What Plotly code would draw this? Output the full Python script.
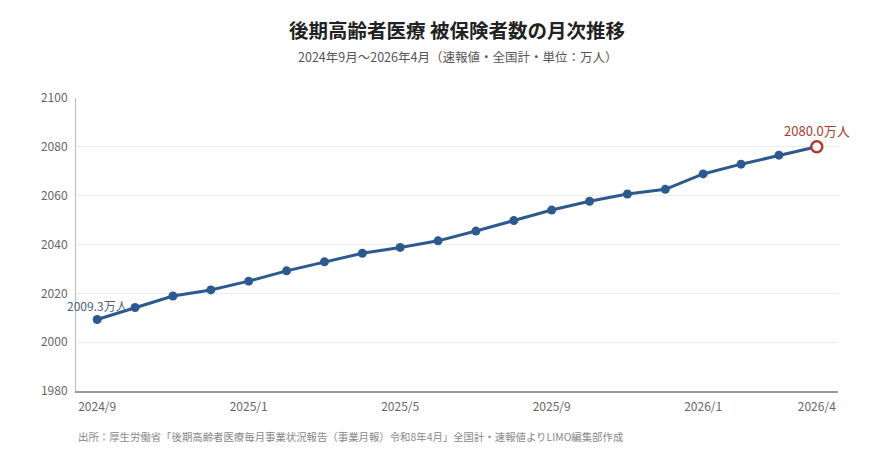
import plotly.graph_objects as go

months = ["2024/9", "2024/10", "2024/11", "2024/12", "2025/1", "2025/2", "2025/3",
          "2025/4", "2025/5", "2025/6", "2025/7", "2025/8", "2025/9", "2025/10",
          "2025/11", "2025/12", "2026/1", "2026/2", "2026/3", "2026/4"]
insured = [2009.3, 2014.2, 2018.9, 2021.4, 2025.0, 2029.2, 2032.9, 2036.4, 2038.8, 2041.5,
           2045.5, 2049.8, 2054.1, 2057.7, 2060.7, 2062.6, 2068.9, 2072.9, 2076.6, 2080.0]
tick_labels = ["2024/9", "2025/1", "2025/5", "2025/9", "2026/1", "2026/4"]
y_ticks = [1980, 2000, 2020, 2040, 2060, 2080, 2100]

FONT = "Noto Sans CJK JP"
LINE = "#2d5a8e"
LAST = "#ad3b30"

idx = list(range(len(months)))
tick_idx = [months.index(t) for t in tick_labels]

fig = go.Figure()
fig.add_trace(go.Scatter(
    x=idx, y=insured, mode="lines+markers",
    line=dict(color=LINE, width=3),
    marker=dict(size=9, color=LINE),
    hoverinfo="skip", showlegend=False,
))
# last point: open red circle
fig.add_trace(go.Scatter(
    x=[idx[-1]], y=[insured[-1]], mode="markers",
    marker=dict(size=11, color="white", line=dict(color=LAST, width=2.5)),
    hoverinfo="skip", showlegend=False,
))

fig.add_annotation(x=idx[0], y=insured[0], text=f"{insured[0]:.1f}万人",
                   showarrow=False, yshift=14, xanchor="center",
                   font=dict(family=FONT, size=12, color="#4d6280"))
fig.add_annotation(x=idx[-1], y=insured[-1], text=f"{insured[-1]:.1f}万人",
                   showarrow=False, yshift=16, xanchor="center",
                   font=dict(family=FONT, size=13, color=LAST))

# title, subtitle, source (page has an 8px body margin, so the figure is 862x448)
W, H = 862, 448
fig.add_annotation(xref="paper", yref="paper", x=0.5, y=1 + (90 - 21) / 293,
                   yanchor="middle", showarrow=False,
                   text="<b>後期高齢者医療 被保険者数の月次推移</b>",
                   font=dict(family=FONT, size=19.5, color="#222"))
fig.add_annotation(xref="paper", yref="paper", x=0.5, y=1 + (90 - 48) / 293,
                   yanchor="middle", showarrow=False,
                   text="2024年9月～2026年4月（速報値・全国計・単位：万人）",
                   font=dict(family=FONT, size=12.5, color="#555"))
fig.add_annotation(xref="paper", yref="paper", x=0, y=-(428 - 383) / 293,
                   xanchor="left", yanchor="middle", showarrow=False,
                   text="出所：厚生労働省「後期高齢者医療毎月事業状況報告（事業月報）令和8年4月」全国計・速報値よりLIMO編集部作成",
                   font=dict(family=FONT, size=10.4, color="#888"))

fig.update_layout(
    width=W, height=H,
    margin=dict(l=68, r=32, t=90, b=65),
    paper_bgcolor="white", plot_bgcolor="white",
    font=dict(family=FONT, color="#666"),
)
fig.update_xaxes(
    range=[-0.56, len(months) - 1 + 0.56],
    tickmode="array", tickvals=tick_idx, ticktext=tick_labels,
    showgrid=False, showline=True, linecolor="#999", linewidth=1.5,
    ticks="", ticklabelstandoff=4,
    tickfont=dict(family=FONT, size=12, color="#666"),
    zeroline=False,
)
fig.update_yaxes(
    range=[1980, 2100], tickvals=y_ticks,
    showgrid=True, gridcolor="#ececec", gridwidth=1,
    showline=True, linecolor="#bbb", linewidth=1,
    ticks="", ticklabelstandoff=5,
    tickfont=dict(family=FONT, size=12, color="#666"),
    zeroline=False,
)

fig.write_html("out.html")
